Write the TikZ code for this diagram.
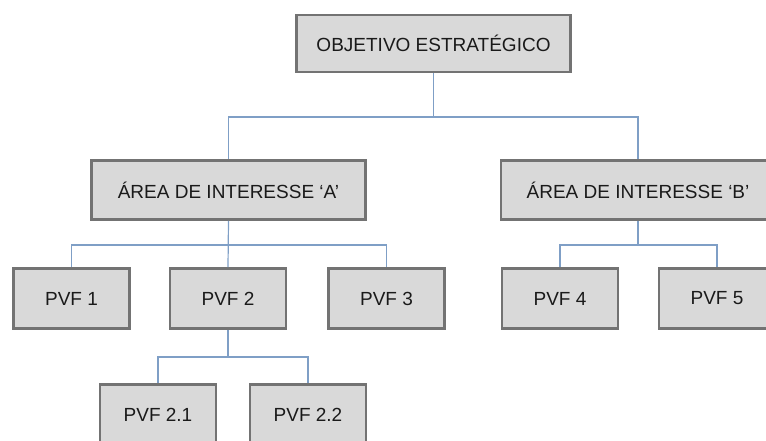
\documentclass[tikz,border=0pt]{standalone}
\usepackage{fontspec}
\setmainfont{Liberation Sans}
\definecolor{boxfill}{HTML}{D9D9D9}
\definecolor{boxline}{HTML}{737373}
\definecolor{linkcol}{HTML}{7F9FC6}
\definecolor{txt}{HTML}{1A1A1A}
\begin{document}
\begin{tikzpicture}[x=1pt,y=-1pt,
  box/.style={draw=boxline, fill=boxfill, line width=2.6pt, inner sep=0pt,
    text=txt, font=\fontsize{19}{22}\selectfont},
  wide/.style={box, minimum width=274pt, minimum height=59pt},
  small/.style={box, minimum width=116pt, minimum height=60pt},
  conn/.style={draw=linkcol, line width=1.2pt}]
\useasboundingbox (0,0) rectangle (766,441);
\clip (0,0) rectangle (766,441);

% bus levels between tiers
\coordinate (busA) at (0,117);
\coordinate (busB) at (0,245);
\coordinate (busC) at (0,357);

% nodes
\node[wide, minimum height=57pt] (obj) at (433.5,43.5) {OBJETIVO ESTRATÉGICO};
\node[wide] (areaA) at (228.5,190) {ÁREA DE INTERESSE ‘A’};
\node[wide] (areaB) at (638,190) {ÁREA DE INTERESSE ‘B’};
\node[small] (p1) at (71.5,298.5) {PVF 1};
\node[small] (p2) at (228,298.5) {PVF 2};
\node[small] (p3) at (386.5,298.5) {PVF 3};
\node[small] (p4) at (560,298.5) {PVF 4};
\node[small] (p5) at (717,298.5) {PVF 5};
\node[small] (p21) at (158,414.5) {PVF 2.1};
\node[small] (p22) at (308,414.5) {PVF 2.2};

% connectors
\begin{scope}[on background layer/.style={}]
\draw[conn] (obj.south) -- (obj.south |- busA) -| (areaA.north);
\draw[conn] (obj.south |- busA) -| (areaB.north);

\draw[conn] (areaA.south) -- (p2.north);
\draw[conn] (p1.north) |- (busB -| p3.north) -- (p3.north);

\draw[conn] (areaB.south) -- (areaB.south |- busB);
\draw[conn] (p4.north) |- (busB -| p5.north) -- (p5.north);

\draw[conn] (p2.south) -- (p2.south |- busC);
\draw[conn] (p21.north) |- (busC -| p22.north) -- (p22.north);
\end{scope}
\end{tikzpicture}
\end{document}
